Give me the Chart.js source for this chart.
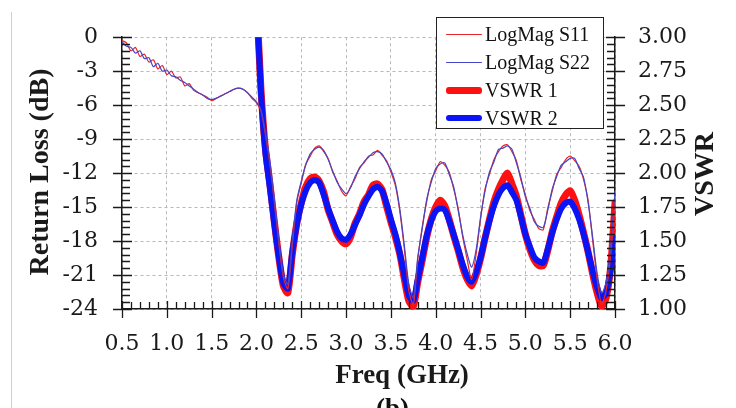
<!DOCTYPE html>
<html>
<head>
<meta charset="utf-8">
<script src="https://cdn.jsdelivr.net/npm/chart.js@4.4.1/dist/chart.umd.min.js"></script>
<style>
  html, body { margin: 0; padding: 0; background: #fff; overflow: hidden; }
  #wrap { position: relative; width: 736px; height: 408px; }
  #edge { position: absolute; left: 11px; top: 12px; width: 1px; height: 396px; background: #cfcfcf; }
  #legend {
    position: absolute; left: 436px; top: 17px; width: 166px; height: 110px;
    border: 1px solid #222; background: #fff; box-sizing: content-box;
    font-family: "Liberation Serif", serif; font-size: 20px; color: #111;
  }
  #legend .row { position: absolute; left: 0; height: 28px; display: flex; align-items: center; }
  #legend .swatch { width: 36px; margin: 0 3px 0 9px; border-radius: 3px; }
  #sub { position: absolute; left: 376px; top: 393px; font: bold 27px "Liberation Serif", serif; color: #111; }
</style>
</head>
<body>
<div id="wrap">
  <canvas id="c" width="736" height="408"></canvas>
  <div id="edge"></div>
  <div id="legend"></div>
  <div id="sub">(b)</div>
</div>
<script>
// frequency points (GHz)
var freq = [0.50,0.55,0.60,0.65,0.70,0.75,0.80,0.85,0.90,0.95,
    1.00,1.05,1.10,1.15,1.20,1.25,1.30,1.35,1.40,1.45,
    1.50,1.55,1.60,1.65,1.70,1.75,1.80,1.85,1.90,1.95,
    2.00,2.05,2.10,2.15,2.20,2.25,2.30,2.35,2.40,2.45,
    2.50,2.55,2.60,2.65,2.70,2.75,2.80,2.85,2.90,2.95,
    3.00,3.05,3.10,3.15,3.20,3.25,3.30,3.35,3.40,3.45,
    3.50,3.55,3.60,3.65,3.70,3.75,3.80,3.85,3.90,3.95,
    4.00,4.05,4.10,4.15,4.20,4.25,4.30,4.35,4.40,4.45,
    4.50,4.55,4.60,4.65,4.70,4.75,4.80,4.85,4.90,4.95,
    5.00,5.05,5.10,5.15,5.20,5.25,5.30,5.35,5.40,5.45,
    5.50,5.55,5.60,5.65,5.70,5.75,5.80,5.85,5.90,5.95,
    6.00];

// return loss (dB)
var s11 = [-0.3,-0.5,-1.2,-0.9,-1.7,-1.5,-2.2,-2.0,-2.8,-2.5,
    -3.3,-3.0,-3.6,-3.5,-4.3,-4.1,-4.7,-4.9,-5.1,-5.3,
    -5.6,-5.4,-5.2,-5.0,-4.8,-4.6,-4.5,-4.6,-4.9,-5.4,
    -5.8,-6.5,-8.6,-11.2,-14.6,-18.2,-21.2,-22.2,-18.4,-14.6,
    -12.9,-11.2,-10.5,-9.8,-9.6,-10.1,-10.7,-11.9,-12.7,-13.6,
    -14.0,-13.2,-12.5,-11.5,-11.1,-10.5,-10.4,-10.0,-10.4,-10.9,
    -11.9,-13.1,-15.4,-18.7,-22.4,-23.6,-19.6,-16.7,-14.5,-12.6,
    -11.8,-11.0,-11.3,-11.9,-13.4,-15.1,-17.6,-19.6,-21.4,-19.2,
    -16.1,-13.4,-12.1,-10.8,-10.1,-9.6,-9.5,-10.1,-10.9,-12.6,
    -13.9,-15.3,-16.1,-16.9,-17.0,-15.1,-13.6,-12.1,-11.5,-10.8,
    -10.5,-10.9,-11.4,-12.6,-14.4,-17.9,-21.3,-23.6,-22.4,-19.4,
    -14.8];

var s22 = [-0.4,-0.8,-0.9,-1.4,-1.2,-1.9,-1.8,-2.6,-2.3,-3.0,
    -2.9,-3.4,-3.5,-3.8,-4.0,-4.3,-4.6,-4.9,-5.1,-5.4,
    -5.5,-5.4,-5.2,-5.0,-4.8,-4.6,-4.5,-4.6,-4.9,-5.3,
    -5.7,-6.4,-8.4,-10.9,-14.3,-17.9,-20.9,-21.8,-17.9,-14.4,
    -12.7,-11.3,-10.3,-9.9,-9.7,-10.0,-10.8,-11.8,-12.8,-13.4,
    -13.8,-13.3,-12.3,-11.6,-11.0,-10.6,-10.2,-10.1,-10.3,-11.0,
    -11.7,-12.9,-15.2,-18.4,-21.8,-23.0,-19.4,-16.9,-14.3,-12.8,
    -11.6,-11.2,-11.1,-12.1,-13.2,-15.3,-17.4,-19.1,-20.3,-18.8,
    -15.9,-13.6,-11.9,-11.0,-9.9,-9.8,-9.6,-9.9,-11.1,-12.4,
    -14.1,-15.1,-16.3,-16.7,-16.8,-15.3,-13.4,-12.3,-11.3,-11.0,
    -10.7,-10.7,-11.6,-12.4,-14.6,-17.6,-20.8,-22.6,-21.7,-18.6,
    -13.6];

// VSWR (off the top of the scale below 2 GHz)
var vswr1 = [null,null,null,null,null,null,null,null,null,null,
    null,null,null,null,null,null,null,null,null,null,
    null,null,null,null,null,null,null,null,null,null,
    3.30,2.62,2.18,1.92,1.64,1.38,1.17,1.12,1.40,1.63,
    1.78,1.90,1.96,1.97,1.94,1.86,1.73,1.64,1.55,1.50,
    1.48,1.53,1.63,1.70,1.79,1.84,1.91,1.92,1.88,1.76,
    1.64,1.53,1.40,1.22,1.06,1.02,1.20,1.36,1.53,1.66,
    1.75,1.80,1.76,1.66,1.54,1.43,1.31,1.22,1.17,1.25,
    1.37,1.52,1.66,1.79,1.88,1.95,2.00,1.92,1.83,1.69,
    1.55,1.44,1.36,1.32,1.32,1.43,1.57,1.68,1.78,1.84,
    1.87,1.80,1.69,1.56,1.42,1.26,1.12,1.02,1.08,1.30,
    1.78];

var vswr2 = [null,null,null,null,null,null,null,null,null,null,
    null,null,null,null,null,null,null,null,null,null,
    null,null,null,null,null,null,null,null,null,null,
    3.30,2.60,2.15,1.89,1.62,1.38,1.19,1.15,1.42,1.62,
    1.77,1.87,1.93,1.95,1.93,1.84,1.74,1.65,1.57,1.52,
    1.51,1.55,1.62,1.69,1.77,1.83,1.88,1.90,1.87,1.78,
    1.66,1.55,1.41,1.25,1.10,1.06,1.22,1.38,1.54,1.65,
    1.72,1.74,1.73,1.65,1.55,1.44,1.33,1.24,1.20,1.27,
    1.38,1.52,1.65,1.76,1.84,1.89,1.91,1.86,1.80,1.68,
    1.55,1.46,1.38,1.35,1.34,1.44,1.56,1.66,1.74,1.78,
    1.79,1.74,1.66,1.55,1.42,1.28,1.16,1.08,1.12,1.28,
    1.52];

var xTicks = [0.5, 6.0, 0.5];     // min, max, step
var dbTicks = [-24, 0, 3];
var vswrTicks = [1.0, 3.0, 0.25];

function pts(vals) {
    return freq.map(function (f, i) { return {x: f, y: vals[i]}; });
}

var tickFont = {family: 'DejaVu Serif', size: 22};
var ink = '#1a1a1a';

var titles = {
    id: 'titles',
    afterDraw: function (chart) {
        var ctx = chart.ctx;
        ctx.save();
        ctx.fillStyle = ink;
        ctx.textAlign = 'center';
        ctx.textBaseline = 'middle';
        ctx.font = 'bold 28px "Liberation Serif"';
        ctx.save();
        ctx.translate(41, 172);
        ctx.rotate(-Math.PI / 2);
        ctx.fillText('Return Loss (dB)', 0, 0);
        ctx.restore();
        ctx.save();
        ctx.translate(706, 174);
        ctx.rotate(-Math.PI / 2);
        ctx.fillText('VSWR', 0, 0);
        ctx.restore();
        ctx.font = 'bold 27px "Liberation Serif"';
        ctx.fillText('Freq (GHz)', 402, 376);
        ctx.restore();
    }
};

// major/minor tick marks like the instrument plot
var axisTicks = {
    id: 'axisTicks',
    afterDraw: function (chart) {
        var ctx = chart.ctx, a = chart.chartArea;
        var x = chart.scales.x, y = chart.scales.y, y2 = chart.scales.y2;
        ctx.save();
        ctx.strokeStyle = ink;
        ctx.lineWidth = 1.3;
        ctx.beginPath();
        for (var i = 0; i <= 55; i++) {
            var px = Math.round(x.getPixelForValue(0.5 + i * 0.1)) + 0.5;
            var maj = i % 5 === 0;
            ctx.moveTo(px, a.bottom - (maj ? 8 : 7));
            ctx.lineTo(px, a.bottom + (maj ? 9 : 0));
        }
        for (var j = 0; j <= 40; j++) {
            var maj2 = j % 5 === 0;
            var py = Math.round(y.getPixelForValue(-24 + j * 0.6)) + 0.5;
            ctx.moveTo(a.left - (maj2 ? 9 : 0), py);
            ctx.lineTo(a.left + (maj2 ? 10 : 8), py);
            var py2 = Math.round(y2.getPixelForValue(1 + j * 0.05)) + 0.5;
            ctx.moveTo(a.right - (maj2 ? 9 : 8), py2);
            ctx.lineTo(a.right + (maj2 ? 10 : 0), py2);
        }
        ctx.stroke();
        ctx.restore();
    }
};

var chart = new Chart(document.getElementById('c'), {
    type: 'line',
    data: {
        datasets: [
            {label: 'LogMag S11', data: pts(s11), yAxisID: 'y', borderColor: '#e8262a', borderWidth: 1.2, order: 1},
            {label: 'LogMag S22', data: pts(s22), yAxisID: 'y', borderColor: '#4545c8', borderWidth: 1.2, order: 0},
            {label: 'VSWR 1', data: pts(vswr1), yAxisID: 'y2', borderColor: '#ff1010', borderWidth: 7, order: 3},
            {label: 'VSWR 2', data: pts(vswr2), yAxisID: 'y2', borderColor: '#0a14f5', borderWidth: 6, order: 2}
        ]
    },
    options: {
        responsive: false,
        animation: false,
        layout: {padding: {top: 23, left: 0, right: 0, bottom: 0}},
        elements: {
            point: {radius: 0},
            line: {tension: 0.25, borderCapStyle: 'round', borderJoinStyle: 'round'}
        },
        plugins: {legend: {display: false}, tooltip: {enabled: false}},
        scales: {
            x: {
                type: 'linear', min: xTicks[0], max: xTicks[1],
                ticks: {stepSize: xTicks[2], autoSkip: false, maxRotation: 0, padding: 22, font: tickFont, color: ink,
                    callback: function (v) { return v.toFixed(1); }},
                grid: {color: '#b8b8b8', lineWidth: 1, drawTicks: false},
                border: {display: true, color: ink, width: 1.5, dash: [3, 3]},
                afterFit: function (s) { s.height = 99; }
            },
            y: {
                position: 'left', min: dbTicks[0], max: dbTicks[1],
                ticks: {stepSize: dbTicks[2], padding: 24, font: tickFont, color: ink,
                    callback: function (v) { return String(v); }},
                grid: {color: '#b8b8b8', lineWidth: 1, drawTicks: false},
                border: {display: true, color: ink, width: 1.5, dash: [3, 3]},
                afterFit: function (s) { s.width = 122; }
            },
            y2: {
                position: 'right', min: vswrTicks[0], max: vswrTicks[1],
                ticks: {stepSize: vswrTicks[2], padding: 23, font: tickFont, color: ink,
                    callback: function (v) { return v.toFixed(2); }},
                grid: {display: false, drawTicks: false},
                border: {display: true, color: ink, width: 1.5},
                afterFit: function (s) { s.width = 121; }
            }
        }
    },
    plugins: [axisTicks, titles]
});

// legend box built from the datasets
var legend = document.getElementById('legend');
chart.data.datasets.forEach(function (ds, i) {
    var row = document.createElement('div');
    row.className = 'row';
    row.style.top = (2 + i * 28) + 'px';
    var sw = document.createElement('span');
    sw.className = 'swatch';
    sw.style.height = (ds.borderWidth > 2 ? ds.borderWidth : 1) + 'px';
    sw.style.background = ds.borderColor;
    var tx = document.createElement('span');
    tx.textContent = ds.label;
    row.appendChild(sw);
    row.appendChild(tx);
    legend.appendChild(row);
});
</script>
</body>
</html>
